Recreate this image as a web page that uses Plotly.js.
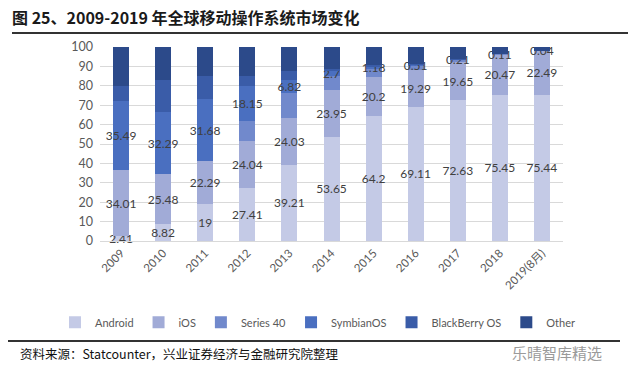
<!DOCTYPE html>
<html>
<head>
<meta charset="utf-8">
<script src="https://cdn.plot.ly/plotly-3.0.1.min.js"></script>
<style>html,body{margin:0;padding:0;background:#fff;}#chart{width:640px;height:377px;}</style>
</head>
<body>
<div id="chart"></div>
<script>
const categories = ['2009','2010','2011','2012','2013','2014','2015','2016','2017','2018','2019(8月)'];
const android    = [2.41, 8.82, 19, 27.41, 39.21, 53.65, 64.2, 69.11, 72.63, 75.45, 75.44];
const ios        = [34.01, 25.48, 22.29, 24.04, 24.03, 23.95, 20.2, 19.29, 19.65, 20.47, 22.49];
const series40   = [0, 0, 0, 10.3, 13.0, 7.4, 4.2, 1.8, 1.0, 0.3, 0.05];
const symbian    = [35.49, 32.29, 31.68, 18.15, 6.82, 2.7, 1.18, 0.51, 0.21, 0.11, 0.04];
const blackberry = [8.2, 16.4, 12.2, 5.35, 4.7, 1.0, 1.0, 0.5, 0.3, 0.1, 0.02];
const other      = [19.89, 17.01, 14.83, 14.75, 12.24, 11.3, 9.22, 8.79, 6.21, 3.57, 1.96];

const seriesNames = ['Android','iOS','Series 40','SymbianOS','BlackBerry OS','Other'];
const seriesData = [android, ios, series40, symbian, blackberry, other];
const seriesColors = ['#c4cae6','#a1abd7','#7189cc','#4a6fc0','#3a5ca8','#2c4a8a'];
const labelled = [true, true, false, true, false, false];

const font = 'Lato, "Liberation Sans", "Noto Sans CJK SC", sans-serif';
const cjk = '"Noto Sans CJK SC", sans-serif';

const traces = seriesNames.map((name, i) => ({
  type: 'bar',
  name: name,
  x: categories,
  y: seriesData[i],
  marker: {color: seriesColors[i], line: {width: 0}},
  text: labelled[i] ? seriesData[i].map(v => String(v)) : undefined,
  texttemplate: labelled[i] ? '%{text}' : undefined,
  textposition: labelled[i] ? 'inside' : 'none',
  insidetextanchor: 'middle',
  textangle: 0,
  constraintext: 'none',
  textfont: {family: font, size: 12, color: '#404040'},
  cliponaxis: false,
  hoverinfo: 'x+y+name'
}));

const L = 100, R = 563, T = 46.7, B = 240.7;
const pw = R - L, ph = B - T;
const px = x => (x - L) / pw;
const py = y => (B - y) / ph;

function rule(x0, x1, y) {
  return {xref: 'paper', yref: 'paper', x: px(x0), y: py(y), xanchor: 'left', yanchor: 'middle',
          showarrow: false, text: '.', font: {size: 1, color: '#333333'},
          width: x1 - x0, height: 2, bgcolor: '#333333', borderpad: 0, borderwidth: 0};
}

const layout = {
  width: 640, height: 377,
  margin: {l: L, r: 640 - R, t: T, b: 377 - B, pad: 0},
  paper_bgcolor: '#ffffff',
  plot_bgcolor: '#ffffff',
  barmode: 'stack',
  bargap: 0.62,
  showlegend: true,
  title: {
    text: '<b>图 25、2009-2019 年全球移动操作系统市场变化</b>',
    font: {family: cjk, size: 16, color: '#1a1a1a'},
    x: 12 / 640, xanchor: 'left', xref: 'container',
    y: 1 - 18 / 377, yanchor: 'middle', yref: 'container'
  },
  xaxis: {
    type: 'category',
    tickangle: -45,
    tickfont: {family: font, size: 11.5, color: '#595959'},
    showgrid: false,
    showline: true, linecolor: '#d9d9d9', linewidth: 1,
    ticks: '', fixedrange: true
  },
  yaxis: {
    range: [0, 100], dtick: 10, tick0: 0,
    tickfont: {family: font, size: 12.5, color: '#595959'},
    showgrid: true, gridcolor: '#d9d9d9', gridwidth: 1,
    zeroline: false, showline: false, ticks: '',
    ticklabelstandoff: 6, fixedrange: true
  },
  legend: {
    orientation: 'h',
    x: px(55), xanchor: 'left', xref: 'paper',
    y: py(322), yanchor: 'middle', yref: 'paper',
    traceorder: 'normal',
    font: {family: font, size: 11, color: '#595959'},
    itemwidth: 30,
    bgcolor: 'rgba(0,0,0,0)'
  },
  annotations: [
    rule(12, 628, 33),
    rule(8, 620, 341),
    {xref: 'paper', yref: 'paper', x: px(18), y: py(353), xanchor: 'left', yanchor: 'middle', showarrow: false,
     text: '资料来源：Statcounter，兴业证券经济与金融研究院整理', font: {family: cjk, size: 12.5, color: '#111'}},
    {xref: 'paper', yref: 'paper', x: px(604), y: py(352), xanchor: 'right', yanchor: 'middle', showarrow: false,
     text: '乐晴智库精选', font: {family: cjk, size: 15, color: '#9a9a9a'}}
  ]
};

Plotly.newPlot('chart', traces, layout, {displayModeBar: false, staticPlot: true});
</script>
</body>
</html>
